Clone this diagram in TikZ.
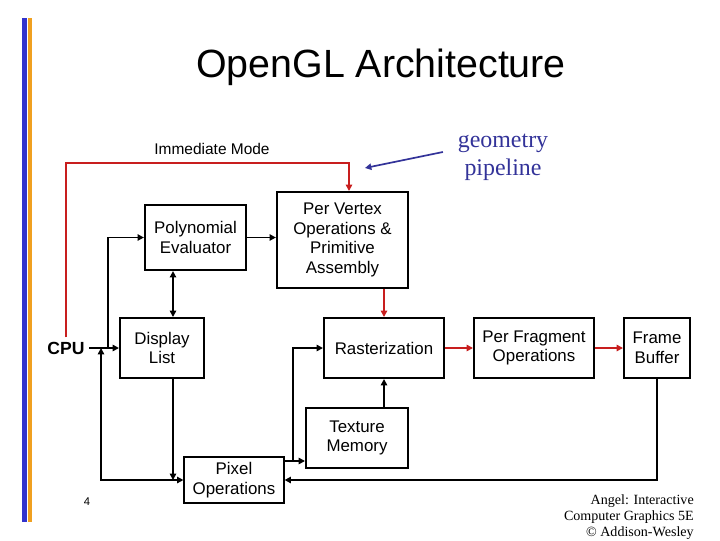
\documentclass[tikz,border=0pt]{standalone}
\usepackage{fontspec}
\setmainfont{Liberation Sans}
\newfontfamily\footserif{Liberation Serif}
\usepackage{tikz}
\usetikzlibrary{arrows.meta,positioning}
\usepackage{xcolor}
\definecolor{barblue}{RGB}{51,51,204}
\definecolor{barorange}{RGB}{240,160,32}
\definecolor{immred}{RGB}{200,30,30}
\definecolor{geoblue}{RGB}{51,51,153}

\begin{document}
\begin{tikzpicture}[x=0.025cm, y=-0.025cm,
  >={Triangle[length=4.5pt,width=4.5pt]},
  block/.style={draw, line width=1.4pt, align=center, inner sep=0pt,
                font=\fontsize{12}{14}\selectfont},
  flow/.style={line width=1.2pt},
  redflow/.style={line width=1.2pt, immred}]
  \useasboundingbox (0,0) rectangle (720,540);
  % Slide decoration
  \fill[barblue]   (22,18) rectangle (27,522);
  \fill[barorange] (28,18) rectangle (32,522);
  \node[font=\fontsize{28}{34}\selectfont] (title) at (381,67) {OpenGL Architecture};
  % Blocks
  \node[block, minimum width=2.53cm, minimum height=1.63cm] (poly)   at (195.5,237.5) {Polynomial\\Evaluator};
  \node[block, minimum width=3.28cm, minimum height=2.4cm]  (vert)   at (342.5,240) {Per Vertex\\Operations \&\\Primitive\\Assembly};
  \node[block, minimum width=2.1cm,  minimum height=1.5cm]  (dlist)  at (162,348) {Display\\List};
  \node[block, minimum width=3.0cm,  minimum height=1.5cm]  (raster) at (384,348) {Rasterization};
  \node[block, minimum width=3.0cm,  minimum height=1.5cm]  (frag)   at (534,348) {Per Fragment\\Operations};
  \node[block, minimum width=1.65cm, minimum height=1.5cm]  (fbuf)   at (657,348) {Frame\\Buffer};
  \node[block, minimum width=2.55cm, minimum height=1.5cm]  (tex)    at (357,438) {Texture\\Memory};
  \node[block, line width=0.8pt, minimum width=2.5cm, minimum height=1.15cm] (pix) at (234,480) {Pixel\\Operations};
  \node[font=\fontsize{12.5}{15}\bfseries\selectfont, inner sep=3pt] (cpu) at (66,348) {CPU};
  % Helper points
  \coordinate (imm)   at (349,163);
  \coordinate (split) at (108,348);
  \coordinate (back)  at (101,348);
  \coordinate (xpd)   at (173,0);
  \coordinate (xr)    at (293,0);
  \coordinate (pout)  at ([yshift=0.475cm]pix.east);
  % Immediate mode
  \draw[redflow, ->] (cpu.north) |- (imm) -- (imm |- vert.north);
  \node[font=\fontsize{11}{13}\selectfont] (immlbl) at (212,149) {Immediate Mode};
  % Geometry path
  \draw[flow, ->] (cpu.east) -- (dlist.west);
  \draw[flow, ->] (split) |- (poly.west);
  \draw[flow, <->] (poly.south -| xpd) -- (dlist.north -| xpd);
  \draw[flow, ->] (poly.east) -- (poly.east -| vert.west);
  \draw[redflow, ->] (vert.south -| raster.north) -- (raster.north);
  \draw[redflow, ->] (raster) -- (frag);
  \draw[redflow, ->] (frag) -- (fbuf);
  % Pixel path
  \draw[flow, ->] (dlist.south -| xpd) -- (pix.west -| xpd);
  \draw[flow, <->] (back) |- (pix.west);
  \draw[flow, ->] (pout) -- (pout -| tex.west);
  \draw[flow, ->] (pout -| xr) |- (raster.west);
  \draw[flow, ->] (tex.north -| raster.south) -- (raster.south);
  \draw[flow, ->] (fbuf.south) |- (pix.east);
  % Geometry pipeline note
  \node[font=\footserif\fontsize{17}{20}\selectfont, text=geoblue, align=center] (geo) at (503,157) {geometry\\pipeline};
  \coordinate (geotip) at (365,168);
  \draw[geoblue, line width=1.2pt, ->] ([shift={(-10,-5)}]geo.west) -- (geotip);
  % Footer
  \node[font=\fontsize{8}{9}\selectfont] (pnum) at (87,502) {4};
  \node[font=\footserif\fontsize{10}{11.5}\selectfont, align=right, anchor=north east, inner sep=0pt] (foot) at (694,494) {Angel: Interactive\\Computer Graphics 5E\\© Addison-Wesley};
\end{tikzpicture}
\end{document}
